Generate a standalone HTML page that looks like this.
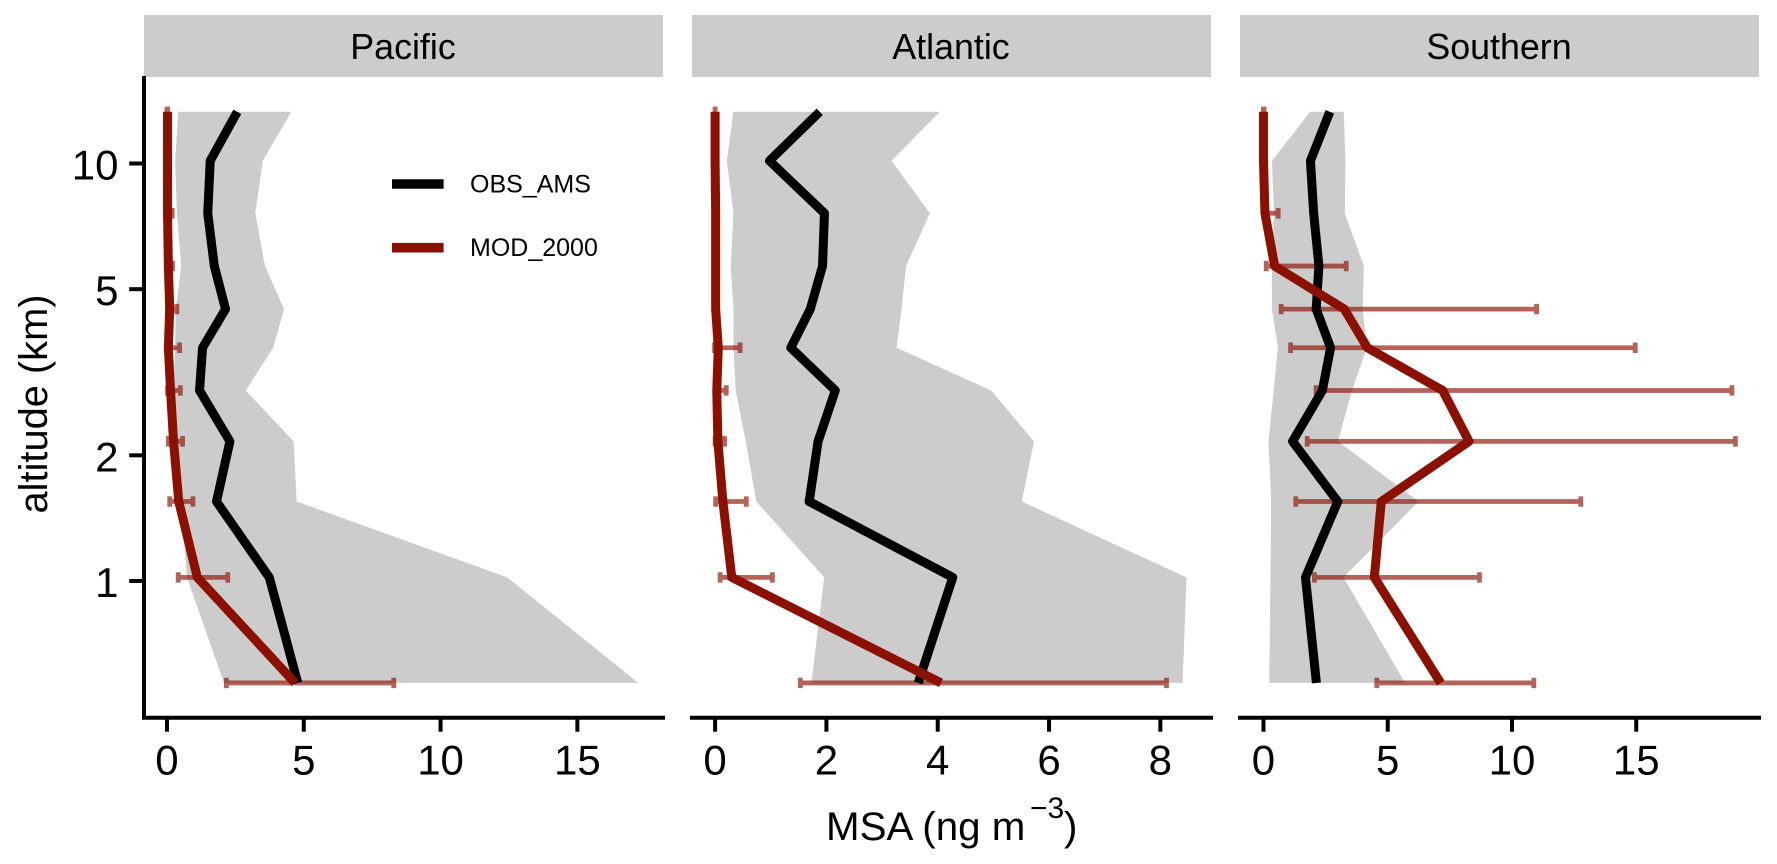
<!DOCTYPE html>
<html lang="en">
<head>
<meta charset="utf-8">
<title>MSA vertical profiles</title>
<style>
html,body{margin:0;padding:0;background:#fff;width:1777px;height:864px;overflow:hidden}
svg{display:block;font-family:"Liberation Sans",Arial,sans-serif}
</style>
</head>
<body>
<svg id="chart" xmlns="http://www.w3.org/2000/svg" width="1777" height="864" viewBox="0 0 1777 864">
  <rect x="0" y="0" width="1777" height="864" fill="#ffffff"/>
  <text transform="translate(47,404) rotate(-90)" text-anchor="middle" font-size="39.8" fill="#000">altitude (km)</text>
  <text font-size="40.3" fill="#000" y="840"><tspan x="826">MSA (ng m</tspan><tspan x="1030" y="818" font-size="30">−3</tspan><tspan x="1064" y="840">)</tspan></text>
</svg>
<script>
// Shared altitude levels (km)
const altitudes = [13.3, 10.15, 7.6, 5.68, 4.48, 3.62, 2.86, 2.16, 1.55, 1.02, 0.57];
const altitudeTicks = [1, 2, 5, 10];
const altitudeTickLabels = ['1', '2', '5', '10'];

// Pacific
const pacificObs = [2.57, 1.58, 1.49, 1.73, 2.14, 1.30, 1.19, 2.30, 1.81, 3.74, 4.78];
const pacificLow = [0.41, 0.30, 0.36, 0.52, 0.32, 0.30, 0.25, 0.40, 0.50, 0.73, 2.08];
const pacificHigh = [4.55, 3.50, 3.23, 3.58, 4.28, 3.88, 2.88, 4.63, 4.74, 12.44, 17.23];
const pacificMod = [0.02, 0.02, 0.02, 0.05, 0.10, 0.05, 0.13, 0.24, 0.43, 1.11, 4.68];
const pacificErrLow = [0.00, 0.00, 0.00, 0.00, 0.02, 0.02, 0.02, 0.05, 0.10, 0.41, 2.17];
const pacificErrHigh = [0.02, 0.05, 0.19, 0.20, 0.36, 0.46, 0.49, 0.57, 0.95, 2.22, 8.29];
const pacificTicks = [0, 5, 10, 15];
const pacificDomain = [-0.84, 18.13];

// Atlantic
const atlanticObs = [1.88, 0.976, 1.965, 1.93, 1.71, 1.36, 2.16, 1.85, 1.69, 4.27, 3.65];
const atlanticLow = [0.33, 0.21, 0.33, 0.28, 0.33, 0.33, 0.37, 0.55, 0.74, 1.96, 1.73];
const atlanticHigh = [4.04, 3.17, 3.86, 3.43, 3.35, 3.26, 4.96, 5.73, 5.51, 8.47, 8.40];
const atlanticMod = [0.00, 0.00, 0.01, 0.01, 0.01, 0.057, 0.03, 0.05, 0.14, 0.30, 4.06];
const atlanticErrLow = [0.00, 0.00, 0.00, 0.00, 0.00, -0.01, 0.00, 0.00, 0.01, 0.09, 1.53];
const atlanticErrHigh = [0.00, 0.00, 0.01, 0.01, 0.02, 0.45, 0.20, 0.17, 0.56, 1.03, 8.11];
const atlanticTicks = [0, 2, 4, 6, 8];
const atlanticDomain = [-0.415, 8.91];

// Southern
const southernObs = [2.67, 1.89, 2.02, 2.23, 2.12, 2.70, 2.37, 1.17, 2.99, 1.69, 2.13];
const southernLow = [1.88, 0.34, 0.42, 0.34, 0.34, 0.58, 0.41, 0.20, 0.31, 0.28, 0.23];
const southernHigh = [3.23, 3.30, 3.27, 4.04, 3.99, 4.16, 3.56, 3.00, 6.24, 3.22, 5.70];
const southernMod = [0.00, 0.00, 0.06, 0.45, 3.25, 4.18, 7.21, 8.27, 4.74, 4.46, 7.13];
const southernErrLow = [0.00, 0.00, 0.00, 0.11, 0.71, 1.09, 2.12, 1.76, 1.30, 2.05, 4.56];
const southernErrHigh = [0.02, 0.02, 0.59, 3.33, 10.99, 14.96, 18.85, 18.99, 12.77, 8.69, 10.88];
const southernTicks = [0, 5, 10, 15];
const southernDomain = [-0.945, 19.94];

const panelNames = ['Pacific', 'Atlantic', 'Southern'];
const legendLabels = ['OBS_AMS', 'MOD_2000'];

const svg = document.getElementById('chart');
const NS = 'http://www.w3.org/2000/svg';
const RED = '#8B1000';
const GREY = '#CCCCCC';

function add(parent, tag, attrs, text) {
  const el = document.createElementNS(NS, tag);
  for (const k in attrs) el.setAttribute(k, attrs[k]);
  if (text !== undefined) el.textContent = text;
  parent.appendChild(el);
  return el;
}

function yScale(alt) {
  return 581 - 417.5 * Math.log10(alt);
}
function makeXScale(domain, left, right) {
  return function (v) {
    return left + (v - domain[0]) / (domain[1] - domain[0]) * (right - left);
  };
}
function linePath(xs, x) {
  return xs.map(function (v, i) {
    return (i ? 'L' : 'M') + x(v).toFixed(2) + ' ' + yScale(altitudes[i]).toFixed(2);
  }).join('');
}
function bandPath(lo, hi, x) {
  let d = linePath(lo, x);
  for (let i = hi.length - 1; i >= 0; i--) {
    d += 'L' + x(hi[i]).toFixed(2) + ' ' + yScale(altitudes[i]).toFixed(2);
  }
  return d + 'Z';
}

function drawPanel(key, title, left, right, domain, ticks, obs, low, high, mod, errLow, errHigh) {
  const x = makeXScale(domain, left, right);
  const g = add(svg, 'g', {});
  
  

  const strip = add(g, 'rect', { x: left, y: 15, width: right - left, height: 62, fill: GREY });
  
  

  const stripText = add(g, 'text', { x: (left + right) / 2 - 0.5, y: 59, 'text-anchor': 'middle', 'font-size': 35.8, fill: '#000' }, title);
  
  

  const band = add(g, 'path', { d: bandPath(low, high, x), fill: GREY, stroke: 'none' });
  
  

  altitudes.forEach(function (alt, i) {
    const yy = yScale(alt);
    const x0 = x(errLow[i]);
    const x1 = x(errHigh[i]);
    const d = 'M' + x0 + ' ' + (yy - 5.2) + 'V' + (yy + 5.2) + 'M' + x0 + ' ' + yy + 'H' + x1 + 'M' + x1 + ' ' + (yy - 5.2) + 'V' + (yy + 5.2);
    const err = add(g, 'path', { d: d, fill: 'none', stroke: RED, 'stroke-width': 4.8, 'stroke-opacity': 0.65 });
    
    
  });

  const obsLine = add(g, 'path', { d: linePath(obs, x), fill: 'none', stroke: '#000', 'stroke-width': 9, 'stroke-linejoin': 'round', 'stroke-linecap': 'butt' });
  
  

  const modLine = add(g, 'path', { d: linePath(mod, x), fill: 'none', stroke: RED, 'stroke-width': 9, 'stroke-linejoin': 'round', 'stroke-linecap': 'butt' });
  
  

  const axis = add(g, 'line', { x1: left, x2: right, y1: 717.7, y2: 717.7, stroke: '#000', 'stroke-width': 4, 'stroke-linecap': 'square' });
  
  

  ticks.forEach(function (t) {
    const tick = add(g, 'line', { x1: x(t), x2: x(t), y1: 718, y2: 731.7, stroke: '#000', 'stroke-width': 4 });
    
    
    const label = add(g, 'text', { x: x(t), y: 774.5, 'text-anchor': 'middle', 'font-size': 42, fill: '#000' }, String(t));
    
    
  });
}

drawPanel('pacific', panelNames[0], 144, 663, pacificDomain, pacificTicks, pacificObs, pacificLow, pacificHigh, pacificMod, pacificErrLow, pacificErrHigh);
drawPanel('atlantic', panelNames[1], 692, 1211, atlanticDomain, atlanticTicks, atlanticObs, atlanticLow, atlanticHigh, atlanticMod, atlanticErrLow, atlanticErrHigh);
drawPanel('southern', panelNames[2], 1240, 1759, southernDomain, southernTicks, southernObs, southernLow, southernHigh, southernMod, southernErrLow, southernErrHigh);

// Shared y axis
const yAxis = add(svg, 'line', { x1: 144, x2: 144, y1: 76, y2: 719, stroke: '#000', 'stroke-width': 4 });



altitudeTicks.forEach(function (t, i) {
  const yy = yScale(t);
  const tick = add(svg, 'line', { x1: 129.2, x2: 144, y1: yy, y2: yy, stroke: '#000', 'stroke-width': 4 });
  
  
  const label = add(svg, 'text', { x: 118.5, y: yy + 16, 'text-anchor': 'end', 'font-size': 42, fill: '#000' }, altitudeTickLabels[i]);
  
  
});

// Legend
const legendColors = ['#000000', RED];
legendLabels.forEach(function (name, i) {
  const yy = 184 + i * 63.7;
  const key = add(svg, 'line', { x1: 392, x2: 443.6, y1: yy, y2: yy, stroke: legendColors[i], 'stroke-width': 9.6 });
  
  
  const label = add(svg, 'text', { x: 470, y: yy + 8.5, 'font-size': 25, fill: '#000' }, name);
  
  
});
</script>
</body>
</html>
